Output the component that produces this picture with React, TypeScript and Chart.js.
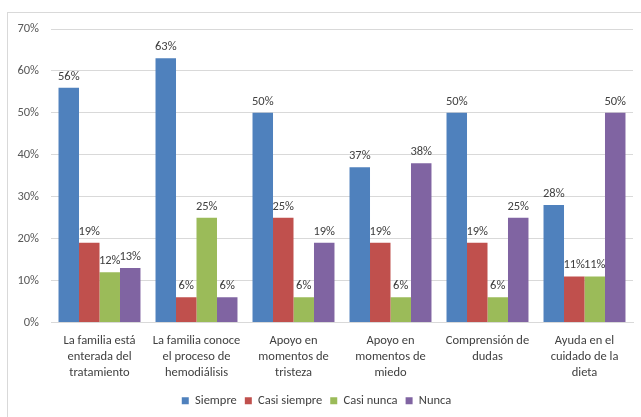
import React, { useEffect, useRef } from "react";
import { Chart, registerables } from "chart.js";

Chart.register(...registerables);

const categories: string[][] = [
  ["La familia está", "enterada del", "tratamiento"],
  ["La familia conoce", "el proceso de", "hemodiálisis"],
  ["Apoyo en", "momentos de", "tristeza"],
  ["Apoyo en", "momentos de", "miedo"],
  ["Comprensión de", "dudas"],
  ["Ayuda en el", "cuidado de la", "dieta"],
];

const seriesNames = ["Siempre", "Casi siempre", "Casi nunca", "Nunca"];
const siempre = [56, 63, 50, 37, 50, 28];
const casiSiempre = [19, 6, 25, 19, 19, 11];
const casiNunca = [12, 25, 6, 6, 6, 11];
const nunca = [13, 6, 19, 38, 25, 50];
const yTicks = [0, 10, 20, 30, 40, 50, 60, 70];

const colors = ["#4F81BD", "#C0504D", "#9BBB59", "#8064A2"];
const FONT = "Carlito, Lato, 'Open Sans', sans-serif";

const dataLabels = {
  id: "dataLabels",
  afterDatasetsDraw(chart: any) {
    const ctx = chart.ctx;
    ctx.save();
    ctx.font = `12.5px ${FONT}`;
    ctx.fillStyle = "#404040";
    ctx.textAlign = "center";
    ctx.textBaseline = "alphabetic";
    chart.data.datasets.forEach((ds: any, i: number) => {
      const meta = chart.getDatasetMeta(i);
      meta.data.forEach((el: any, j: number) => {
        ctx.fillText(`${ds.data[j]}%`, el.x, el.y - 8);
      });
    });
    ctx.restore();
  },
};

export default function App() {
  const ref = useRef<HTMLCanvasElement | null>(null);
  useEffect(() => {
    document.body.style.margin = "0";
    Chart.defaults.font.family = FONT;
    const series = [siempre, casiSiempre, casiNunca, nunca];
    const chart = new Chart(ref.current!, {
      type: "bar",
      data: {
        labels: categories,
        datasets: series.map((d, i) => ({
          label: seriesNames[i],
          data: d,
          backgroundColor: colors[i],
          borderWidth: 0,
          barPercentage: 1,
          categoryPercentage: 0.845,
        })),
      },
      options: {
        responsive: false,
        animation: false,
        devicePixelRatio: 1,
        layout: { padding: { left: 0, top: 29, right: 8, bottom: 0 } },
        plugins: {
          legend: {
            position: "bottom",
            labels: {
              boxWidth: 7,
              boxHeight: 7,
              padding: 8,
              color: "#404040",
              font: { size: 12.5, family: FONT },
            },
          },
          tooltip: { enabled: false },
        },
        scales: {
          x: {
            grid: { display: false, drawTicks: false },
            border: { color: "#d9d9d9" },
            ticks: {
              color: "#404040",
              font: { size: 12.5, family: FONT, lineHeight: 1.28 },
              padding: 10,
              maxRotation: 0,
              autoSkip: false,
            },
            afterFit: (s: any) => {
              s.height = 64;
            },
          },
          y: {
            min: 0,
            max: 70,
            afterBuildTicks: (s: any) => {
              s.ticks = yTicks.map((v) => ({ value: v }));
            },
            grid: { color: "#d9d9d9", drawTicks: false },
            border: { display: false },
            ticks: {
              color: "#595959",
              font: { size: 12.5, family: FONT },
              padding: 12,
              callback: (v: any) => `${v}%`,
            },
            afterFit: (s: any) => {
              s.width = 51;
            },
          },
        },
      },
      plugins: [dataLabels],
    });
    return () => chart.destroy();
  }, []);
  return (
    <div style={{ position: "relative", width: 641, height: 417, overflow: "hidden", background: "#fff" }}>
      <div
        style={{
          position: "absolute",
          left: 7,
          top: 12,
          width: 660,
          height: 420,
          border: "1px solid #d9d9d9",
          boxSizing: "border-box",
        }}
      />
      <canvas ref={ref} width={641} height={417} style={{ position: "absolute", left: 0, top: 0 }} />
    </div>
  );
}
